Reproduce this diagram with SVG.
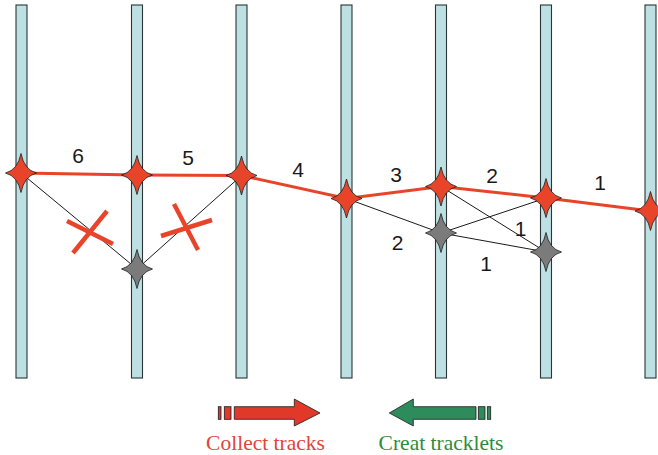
<svg xmlns="http://www.w3.org/2000/svg" width="658" height="455" viewBox="0 0 658 455">
  <style>
    .bar { fill: #bde1e3; stroke: #2b3436; stroke-width: 1.1; }
    .track { fill: none; stroke: #e8442a; stroke-width: 3; stroke-linecap: butt; }
    .link { fill: none; stroke: #1a1a1a; stroke-width: 1; }
    .cross { stroke: #e8442a; stroke-width: 4.5; stroke-linecap: butt; }
    .hit { fill: #e8442a; stroke: #1a1a1a; stroke-width: 0.8; }
    .ghost { fill: #7b7b7b; stroke: #1a1a1a; stroke-width: 0.8; }
    .num { font-family: "Liberation Sans", Arial, sans-serif; font-size: 21px; fill: #1a1a1a; text-anchor: middle; }
    .caption { font-family: "Liberation Serif", "Times New Roman", serif; font-size: 21.5px; text-anchor: middle; }
  </style>
  <defs>
    <path id="star" d="M0,-19.5 Q3.2,-3.2 15.5,0 Q3.2,3.2 0,19.5 Q-3.2,3.2 -15.5,0 Q-3.2,-3.2 0,-19.5 Z"/>
  </defs>

  <!-- detector layers -->
  <g id="layers">
    <rect id="layer1" class="bar" x="16" y="5" width="11" height="373"/>
    <rect id="layer2" class="bar" x="131.5" y="5" width="11" height="373"/>
    <rect id="layer3" class="bar" x="236" y="5" width="11" height="373"/>
    <rect id="layer4" class="bar" x="341" y="5" width="11" height="373"/>
    <rect id="layer5" class="bar" x="435.5" y="5" width="11" height="373"/>
    <rect id="layer6" class="bar" x="540.5" y="5" width="11" height="373"/>
    <rect id="layer7" class="bar" x="645" y="5" width="11" height="373"/>
  </g>

  <!-- connectors -->
  <g id="connectors">
    <polyline class="track" points="21,173 137,175 241.5,175.5 346.5,198.5 441,186.5 546,198 650.5,211"/>
    <polyline class="link" points="21,173 137,269 241.5,175.5"/>
    <line class="link" x1="346.5" y1="198.5" x2="441" y2="233"/>
    <line class="link" x1="441" y1="186.5" x2="546" y2="252"/>
    <line class="link" x1="441" y1="233" x2="546" y2="198"/>
    <line class="link" x1="441" y1="233" x2="546" y2="252"/>
  </g>

  <!-- rejected links -->
  <g id="reject1">
    <line class="cross" x1="67" y1="221" x2="113" y2="244"/>
    <line class="cross" x1="73" y1="253" x2="107" y2="211"/>
  </g>
  <g id="reject2">
    <line class="cross" x1="161" y1="236" x2="212" y2="220"/>
    <line class="cross" x1="174" y1="204" x2="198" y2="250"/>
  </g>

  <!-- hits -->
  <g id="hit1"><use href="#star" class="hit" x="21" y="173"/></g>
  <g id="hit2"><use href="#star" class="hit" x="137" y="175"/></g>
  <g id="hit3"><use href="#star" class="hit" x="241.5" y="175.5"/></g>
  <g id="hit4"><use href="#star" class="hit" x="346.5" y="198.5"/></g>
  <g id="hit5"><use href="#star" class="hit" x="441" y="186.5"/></g>
  <g id="hit6"><use href="#star" class="hit" x="546" y="198"/></g>
  <g id="hit7"><use href="#star" class="hit" x="650.5" y="211"/></g>
  <g id="ghost2"><use href="#star" class="ghost" x="137" y="269"/></g>
  <g id="ghost5"><use href="#star" class="ghost" x="441" y="233"/></g>
  <g id="ghost6"><use href="#star" class="ghost" x="546" y="252"/></g>

  <!-- step numbers -->
  <g id="labels">
    <text class="num" x="78" y="163">6</text>
    <text class="num" x="188" y="165">5</text>
    <text class="num" x="298" y="177">4</text>
    <text class="num" x="396" y="182">3</text>
    <text class="num" x="492" y="182.5">2</text>
    <text class="num" x="600" y="189.5">1</text>
    <text class="num" x="397.5" y="250">2</text>
    <text class="num" x="520.5" y="236">1</text>
    <text class="num" x="486" y="270.5">1</text>
  </g>

  <!-- direction arrows -->
  <g id="collect">
    <rect x="218.3" y="406.7" width="2.7" height="12.6" fill="#e0392a" stroke="#1a1a1a" stroke-width="0.8"/>
    <rect x="224.3" y="406.7" width="6.7" height="12.6" fill="#e0392a" stroke="#1a1a1a" stroke-width="0.8"/>
    <path d="M234.3,406.7 H294.3 V399 L320,413 L294.3,426 V419.3 H234.3 Z" fill="#e0392a" stroke="#1a1a1a" stroke-width="0.8"/>
    <text class="caption" x="265.5" y="450" fill="#e0453a">Collect tracks</text>
  </g>
  <g id="create">
    <path d="M476,406.7 H413.3 V399 L389.3,413 L413.3,426 V419.3 H476 Z" fill="#2e8b5c" stroke="#1a1a1a" stroke-width="0.8"/>
    <rect x="478.3" y="406.7" width="6.7" height="12.6" fill="#2e8b5c" stroke="#1a1a1a" stroke-width="0.8"/>
    <rect x="487.3" y="406.7" width="3.4" height="12.6" fill="#2e8b5c" stroke="#1a1a1a" stroke-width="0.8"/>
    <text class="caption" x="441" y="450" fill="#2e8b3a">Creat tracklets</text>
  </g>
</svg>
